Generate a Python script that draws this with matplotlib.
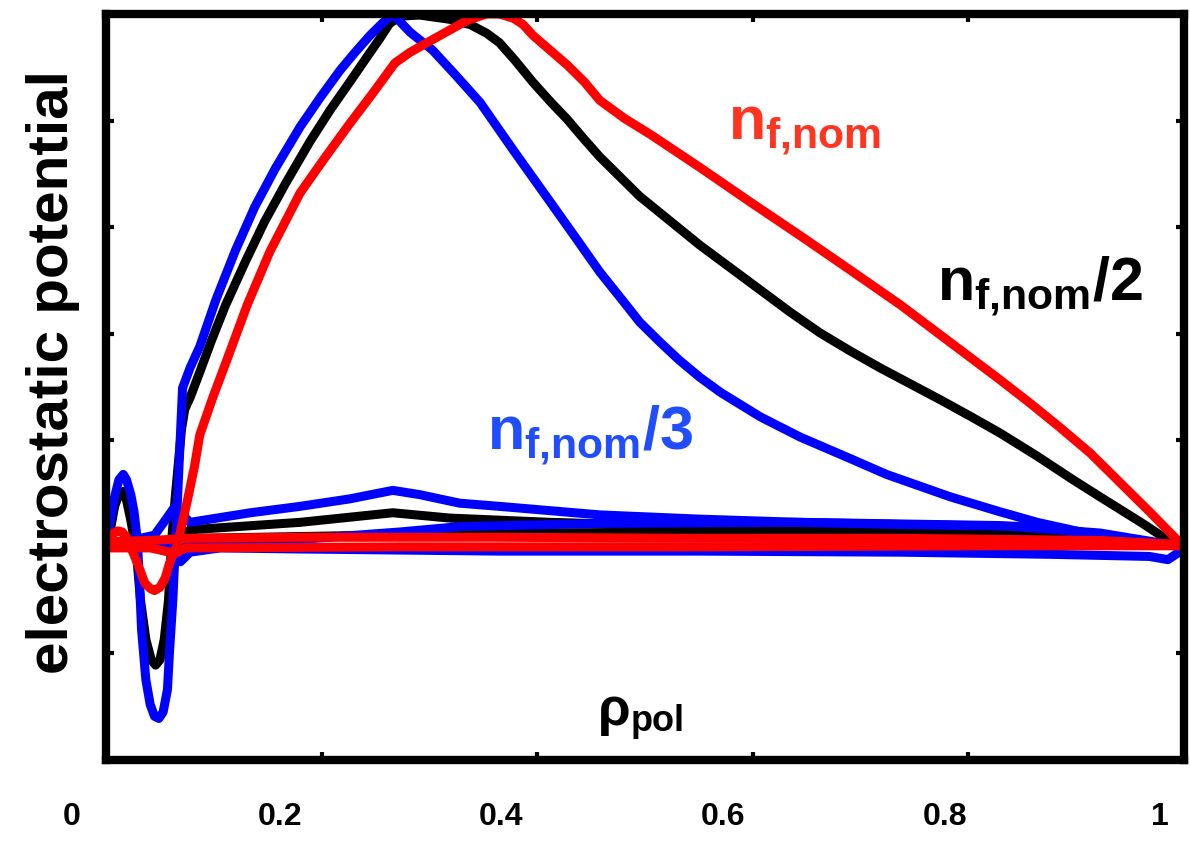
import matplotlib
matplotlib.use("Agg")
import matplotlib.pyplot as plt
from matplotlib.transforms import ScaledTranslation

plt.rcParams['font.family'] = ['Liberation Sans', 'DejaVu Sans']
plt.rcParams['font.weight'] = 'bold'
plt.rcParams['mathtext.fontset'] = 'custom'
plt.rcParams['mathtext.rm'] = 'Liberation Sans:bold'
plt.rcParams['mathtext.it'] = 'Liberation Sans:bold'
plt.rcParams['mathtext.bf'] = 'Liberation Sans:bold'

# ---- profiles of the electrostatic potential vs rho_pol ----
# nominal fast-ion density / 3 (blue)
rho_b1 = [0, 0.005, 0.008, 0.012, 0.016, 0.019, 0.023, 0.026, 0.029, 0.031, 0.033, 0.037, 0.041,
          0.045, 0.049, 0.053, 0.057, 0.059, 0.062, 0.065, 0.068, 0.071, 0.078, 0.087, 0.102,
          0.120, 0.138, 0.157, 0.180, 0.199, 0.217, 0.231, 0.245, 0.256, 0.266, 0.282, 0.303,
          0.324, 0.347, 0.378, 0.409, 0.435, 0.458, 0.477, 0.495, 0.514, 0.532, 0.551, 0.570,
          0.607, 0.644, 0.690, 0.724, 0.783, 0.829, 0.864, 0.922, 0.968, 1.0]
phi_b1 = [0.07, 0.30, 0.47, 0.63, 0.68, 0.63, 0.49, 0.33, 0.07, -0.31, -0.78, -1.25, -1.48,
          -1.59, -1.61, -1.55, -1.34, -0.97, -0.50, 0.16, 0.82, 1.49, 1.68, 1.88, 2.32,
          2.78, 3.19, 3.55, 3.94, 4.22, 4.47, 4.64, 4.80, 4.91, 5.00, 4.83, 4.66,
          4.43, 4.17, 3.72, 3.28, 2.91, 2.58, 2.34, 2.11, 1.92, 1.75, 1.59, 1.45,
          1.22, 1.03, 0.83, 0.68, 0.47, 0.33, 0.23, 0.10, 0.04, 0.0]
rho_b2 = [0, 0.013, 0.032, 0.045, 0.055, 0.064, 0.071, 0.078, 0.134, 0.180, 0.226, 0.266, 0.291,
          0.328, 0.365, 0.458, 0.551, 0.644, 0.737, 0.864, 0.922, 1.0]
phi_b2 = [0.02, 0.04, 0.08, 0.11, 0.25, 0.38, 0.30, 0.23, 0.32, 0.38, 0.45, 0.53, 0.49,
          0.41, 0.38, 0.30, 0.26, 0.23, 0.21, 0.19, 0.11, 0.0]
rho_b3 = [0, 0.041, 0.059, 0.069, 0.078, 0.106, 0.180, 0.365, 0.551, 0.737, 0.876, 0.968, 0.985, 1.0]
phi_b3 = [0.0, 0.0, -0.05, -0.14, -0.05, -0.01, -0.02, -0.04, -0.04, -0.05, -0.07, -0.09, -0.12, -0.02]
rho_b4 = [0, 0.087, 0.180, 0.273, 0.328, 0.458, 0.644, 0.829, 0.922, 1.0]
phi_b4 = [0.0, 0.02, 0.07, 0.14, 0.19, 0.22, 0.23, 0.20, 0.13, 0.0]

# nominal fast-ion density / 2 (black)
rho_k1 = [0, 0.005, 0.008, 0.012, 0.016, 0.019, 0.023, 0.028, 0.032, 0.037, 0.042, 0.046, 0.050,
          0.054, 0.058, 0.061, 0.064, 0.067, 0.070, 0.073, 0.078, 0.087, 0.098, 0.111, 0.129,
          0.147, 0.166, 0.189, 0.208, 0.226, 0.243, 0.254, 0.263, 0.273, 0.291, 0.319, 0.338,
          0.353, 0.365, 0.379, 0.396, 0.412, 0.428, 0.444, 0.458, 0.477, 0.495, 0.523, 0.551,
          0.579, 0.607, 0.635, 0.662, 0.690, 0.718, 0.746, 0.774, 0.801, 0.829, 0.864, 0.897,
          0.922, 0.941, 0.960, 0.978, 1.0]
phi_k1 = [0.02, 0.21, 0.38, 0.49, 0.52, 0.44, 0.25, -0.03, -0.50, -0.87, -1.06, -1.11, -1.06,
          -0.87, -0.50, 0.07, 0.44, 0.77, 1.10, 1.29, 1.40, 1.64, 1.94, 2.27, 2.67,
          3.05, 3.40, 3.80, 4.10, 4.36, 4.61, 4.77, 4.91, 4.98, 4.99, 4.95, 4.90,
          4.82, 4.73, 4.57, 4.36, 4.18, 4.01, 3.82, 3.66, 3.47, 3.29, 3.06, 2.83,
          2.62, 2.41, 2.20, 2.01, 1.84, 1.68, 1.53, 1.38, 1.23, 1.07, 0.85, 0.63,
          0.47, 0.35, 0.23, 0.11, 0.02]
rho_k2 = [0, 0.041, 0.064, 0.078, 0.180, 0.266, 0.319, 0.412, 0.551, 0.737, 0.922, 1.0]
phi_k2 = [0.01, 0.02, 0.07, 0.16, 0.23, 0.32, 0.27, 0.23, 0.19, 0.16, 0.11, 0.0]
rho_k3 = [0, 0.087, 0.365, 0.644, 0.829, 0.922, 1.0]
phi_k3 = [0.01, 0.08, 0.13, 0.14, 0.13, 0.09, 0.0]

# nominal fast-ion density (red)
rho_r1 = [0, 0.004, 0.007, 0.011, 0.015, 0.019, 0.022, 0.027, 0.032, 0.036, 0.041, 0.045, 0.050,
          0.055, 0.059, 0.063, 0.066, 0.071, 0.076, 0.082, 0.087, 0.099, 0.112, 0.131, 0.152,
          0.180, 0.203, 0.226, 0.247, 0.268, 0.282, 0.303, 0.319, 0.335, 0.353, 0.365, 0.378,
          0.387, 0.396, 0.412, 0.428, 0.444, 0.458, 0.481, 0.505, 0.551, 0.597, 0.644, 0.690,
          0.737, 0.783, 0.829, 0.857, 0.885, 0.913, 0.938, 0.968, 1.0]
phi_r1 = [0.02, 0.08, 0.13, 0.15, 0.14, 0.09, 0.02, -0.10, -0.23, -0.34, -0.39, -0.41, -0.38,
          -0.29, -0.15, -0.06, 0.02, 0.23, 0.46, 0.75, 1.05, 1.40, 1.75, 2.27, 2.77,
          3.32, 3.65, 3.97, 4.25, 4.54, 4.64, 4.76, 4.85, 4.94, 5.00, 5.00, 4.96,
          4.90, 4.80, 4.66, 4.52, 4.36, 4.19, 4.02, 3.87, 3.56, 3.24, 2.92, 2.60,
          2.27, 1.92, 1.57, 1.35, 1.12, 0.88, 0.63, 0.33, 0.0]
rho_r2 = [0, 0.041, 0.078, 0.180, 0.365, 0.551, 0.737, 0.922, 1.0]
phi_r2 = [0.05, 0.06, 0.08, 0.09, 0.09, 0.08, 0.08, 0.06, 0.02]
rho_r3 = [0, 0.041, 0.064, 0.074, 0.273, 0.551, 0.829, 1.0]
phi_r3 = [-0.01, -0.01, -0.06, -0.01, 0.0, 0.0, 0.01, 0.01]

x_ticks = [0, 0.2, 0.4, 0.6, 0.8, 1.0]
x_tick_labels = ['0', '0.2', '0.4', '0.6', '0.8', '1']
y_ticks = [-1, 0, 1, 2, 3, 4]

LW = 6.5
BLUE, BLACK, RED = '#0000ff', '#000000', '#ff0000'

fig = plt.figure(figsize=(11.9, 8.41), dpi=100)
ax = fig.add_axes([106 / 1190, 81 / 841, 1078 / 1190, 746 / 841])

for r, p in [(rho_k3, phi_k3), (rho_k2, phi_k2), (rho_k1, phi_k1)]:
    ax.plot(r, p, color=BLACK, lw=LW, solid_capstyle='round', solid_joinstyle='round')
for r, p in [(rho_b3, phi_b3), (rho_b4, phi_b4), (rho_b2, phi_b2), (rho_b1, phi_b1)]:
    ax.plot(r, p, color=BLUE, lw=LW, solid_capstyle='round', solid_joinstyle='round')
for r, p in [(rho_r1, phi_r1), (rho_r2, phi_r2), (rho_r3, phi_r3)]:
    ax.plot(r, p, color=RED, lw=LW, solid_capstyle='round', solid_joinstyle='round')

ax.set_xlim(0, 1)
ax.set_ylim(-2, 5)
for s in ax.spines.values():
    s.set_linewidth(6)
    s.set_zorder(5)

ax.set_xticks(x_ticks)
ax.set_xticklabels(x_tick_labels)
ax.set_yticks(y_ticks)
ax.set_yticklabels([])
ax.tick_params(direction='in', length=6, width=3, top=True, right=True,
               labelsize=23, pad=30)

# tick labels sit slightly left of their ticks
shifts = [-34, -42, -36, -30, -23, -24]
for lbl, dx in zip(ax.get_xticklabels(), shifts):
    lbl.set_fontweight('bold')
    lbl.set_transform(lbl.get_transform() + ScaledTranslation(dx / 100, 0, fig.dpi_scale_trans))

ax.text(-0.049, 0.52, 'electrostatic potential', transform=ax.transAxes,
        rotation=90, ha='center', va='center', fontsize=42, fontweight='bold')

# rho_pol label inside the frame
ax.text(0.456, 0.047, '\u03c1', transform=ax.transAxes, ha='left', va='baseline',
        fontsize=38, fontweight='bold')
ax.text(0.487, 0.039, 'pol', transform=ax.transAxes, ha='left', va='baseline',
        fontsize=26, fontweight='bold')

ax.text(0.648, 3.93, r'$n_{f{,}nom}$', color='#ff3520', fontsize=44, ha='center', va='center')
ax.text(0.866, 2.45, r'$n_{f{,}nom}/2$', color='#000000', fontsize=44, ha='center', va='center')
ax.text(0.449, 1.05, r'$n_{f{,}nom}/3$', color='#1f4dff', fontsize=44, ha='center', va='center')

fig.savefig('out.png', dpi=100)
